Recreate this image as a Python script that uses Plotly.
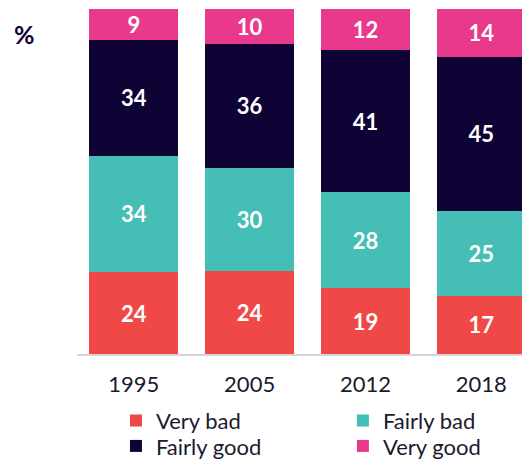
import plotly.graph_objects as go

years = ["1995", "2005", "2012", "2018"]
very_bad = [24, 24, 19, 17]
fairly_bad = [34, 30, 28, 25]
fairly_good = [34, 36, 41, 45]
very_good = [9, 10, 12, 14]

series = [
    ("Very bad", very_bad, "#ef4846", "legend"),
    ("Fairly bad", fairly_bad, "#45bfb5", "legend2"),
    ("Fairly good", fairly_good, "#0f0335", "legend3"),
    ("Very good", very_good, "#e9398c", "legend4"),
]

fig = go.Figure()
for name, vals, color, lg in series:
    fig.add_trace(go.Bar(
        name=name, x=years, y=vals, marker=dict(color=color, line=dict(width=0)),
        text=[str(v) for v in vals], texttemplate="%{text}",
        textposition="inside", insidetextanchor="middle", textangle=0,
        textfont=dict(family="Lato", size=22, color="white", weight="bold"),
        hoverinfo="skip", legend=lg,
    ))

legend_font = dict(family="Lato", size=22, color="#1a1a2e")
col_x = [0.086, 0.587]
row_y = [-0.193, -0.267]


def lg(x, y):
    return dict(x=x, y=y, xanchor="left", yanchor="middle", font=legend_font,
                bgcolor="rgba(0,0,0,0)")


# the page body adds an 8px offset, so the figure is laid out 8px up/left
fig.update_layout(
    barmode="stack", barnorm="percent", bargap=0.23,
    width=530, height=461,
    margin=dict(l=69, r=8, t=1, b=115),
    plot_bgcolor="white", paper_bgcolor="white",
    font=dict(family="Lato", color="#1a1a2e"),
    uniformtext=dict(minsize=22, mode="show"),
    showlegend=True,
    legend=lg(col_x[0], row_y[0]),
    legend2=lg(col_x[1], row_y[0]),
    legend3=lg(col_x[0], row_y[1]),
    legend4=lg(col_x[1], row_y[1]),
    xaxis=dict(
        range=[-0.49, 3.42], showline=True, linecolor="#d6d6d6", linewidth=1.5,
        ticks="", ticklabelstandoff=10, showgrid=False,
        tickfont=dict(family="Lato", size=22, color="#1a1a2e"),
    ),
    yaxis=dict(range=[0, 100], visible=False),
    annotations=[dict(
        text="%", xref="paper", yref="paper", x=-0.115, y=0.928,
        xanchor="center", yanchor="middle", showarrow=False,
        font=dict(family="Lato", size=25, color="#0f0335", weight="bold"),
    )],
)

fig.write_html("out.html")
